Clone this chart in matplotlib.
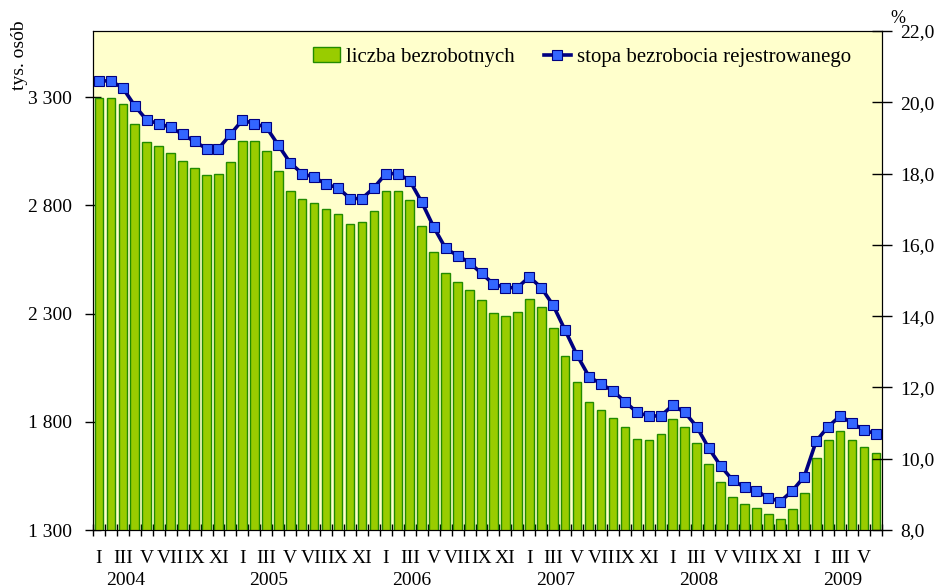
import matplotlib.pyplot as plt
import numpy as np

plt.rcParams['font.family'] = ['Liberation Serif', 'DejaVu Serif']

# monthly data, I 2004 - VI 2009
years = ['2004', '2005', '2006', '2007', '2008', '2009']
month_labels = ['I', '', 'III', '', 'V', '', 'VII', '', 'IX', '', 'XI', '']

bezrobotni = [
    3294, 3294, 3268, 3174, 3092, 3072, 3041, 3004, 2971, 2938, 2943, 2998,   # 2004
    3095, 3095, 3052, 2957, 2866, 2827, 2809, 2783, 2760, 2712, 2721, 2772,   # 2005
    2864, 2864, 2823, 2704, 2583, 2486, 2444, 2410, 2362, 2301, 2287, 2307,   # 2006
    2366, 2329, 2232, 2102, 1984, 1893, 1853, 1819, 1776, 1719, 1717, 1745,   # 2007
    1811, 1776, 1700, 1603, 1523, 1451, 1420, 1402, 1372, 1351, 1396, 1471,   # 2008
    1631, 1716, 1756, 1716, 1682, 1656,                                       # 2009
]
stopa = [
    20.6, 20.6, 20.4, 19.9, 19.5, 19.4, 19.3, 19.1, 18.9, 18.7, 18.7, 19.1,
    19.5, 19.4, 19.3, 18.8, 18.3, 18.0, 17.9, 17.7, 17.6, 17.3, 17.3, 17.6,
    18.0, 18.0, 17.8, 17.2, 16.5, 15.9, 15.7, 15.5, 15.2, 14.9, 14.8, 14.8,
    15.1, 14.8, 14.3, 13.6, 12.9, 12.3, 12.1, 11.9, 11.6, 11.3, 11.2, 11.2,
    11.5, 11.3, 10.9, 10.3, 9.8, 9.4, 9.2, 9.1, 8.9, 8.8, 9.1, 9.5,
    10.5, 10.9, 11.2, 11.0, 10.8, 10.7,
]

n = len(bezrobotni)
x = np.arange(n)

fig = plt.figure(figsize=(9.38, 5.88), dpi=100)
ax = fig.add_axes([0.0991, 0.0986, 0.8412, 0.8487])
ax.set_facecolor('#FFFFCC')

bars = ax.bar(x, bezrobotni, width=0.72, color='#99CC00', edgecolor='#228B00',
              linewidth=1.0, label='liczba bezrobotnych', zorder=2)
ax.set_ylim(1300, 3605)
ax.set_yticks([1300, 1800, 2300, 2800, 3300])
ax.set_yticklabels(['1 300', '1 800', '2 300', '2 800', '3 300'], fontsize=14)
ax.set_xlim(-0.5, n - 0.5)
ax.tick_params(axis='y', direction='inout', length=12, width=1, pad=9)

# month ticks at boundaries, labels under bars
ax.set_xticks(np.arange(n + 1) - 0.5)
ax.set_xticklabels([])
ax.tick_params(axis='x', direction='inout', length=8, width=1)
for i in range(n):
    lab = month_labels[i % 12]
    if lab:
        ax.text(i, -0.058, lab, transform=ax.get_xaxis_transform(),
                ha='center', va='center', fontsize=14)
for k, yr in enumerate(years):
    ax.text(k * 12 + 2.2, -0.102, yr, transform=ax.get_xaxis_transform(),
            ha='center', va='center', fontsize=14)

ax2 = ax.twinx()
line, = ax2.plot(x, stopa, color='#000080', linewidth=2.6, marker='s',
                 markersize=7.5, markerfacecolor='#3366FF',
                 markeredgecolor='#000080', markeredgewidth=0.8,
                 label='stopa bezrobocia rejestrowanego', zorder=3)
ax2.set_ylim(8, 22)
ax2.set_yticks(np.arange(8, 22.1, 2))
ax2.set_yticklabels([f'{v:.1f}'.replace('.', ',') for v in np.arange(8, 22.1, 2)],
                    fontsize=14)
ax2.tick_params(axis='y', direction='inout', length=14, width=1, pad=6)

ax.text(-0.0936, 1.022, 'tys. osób', transform=ax.transAxes, rotation=90,
        ha='center', va='top', fontsize=14)
ax2.text(1.01, 1.008, '%', transform=ax2.transAxes, ha='left', va='bottom',
         fontsize=13)

ax.legend([bars, line], ['liczba bezrobotnych', 'stopa bezrobocia rejestrowanego'],
          loc='upper right', bbox_to_anchor=(0.985, 1.005), ncol=2, frameon=False,
          fontsize=15, handlelength=1.3, handletextpad=0.3, columnspacing=1.4)

plt.savefig('out.png', dpi=100)
